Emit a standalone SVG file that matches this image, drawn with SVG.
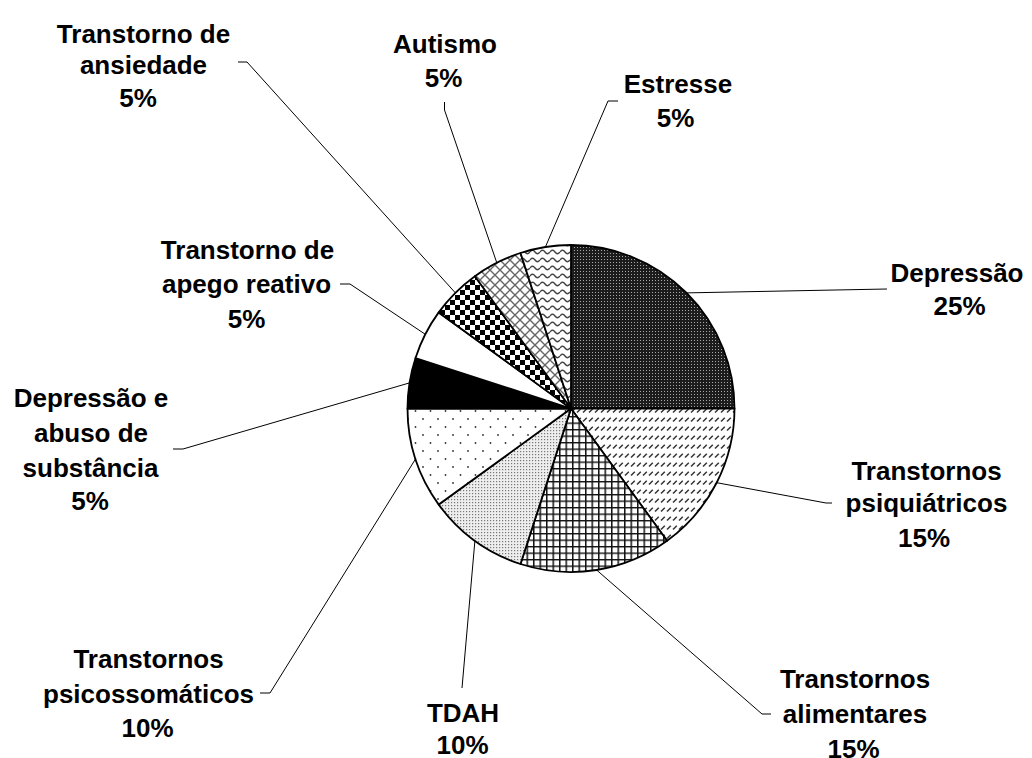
<svg xmlns="http://www.w3.org/2000/svg" width="1032" height="758" viewBox="0 0 1032 758">
<style>
.lbl{font-family:"Liberation Sans",Arial,sans-serif;font-weight:bold;font-size:26px;fill:#000;text-anchor:middle}
.lead{fill:none;stroke:#000;stroke-width:1}
.slice{stroke:#000;stroke-width:1.8;stroke-linejoin:round}
</style>
<defs>
<pattern id="pDep" width="3" height="3" patternUnits="userSpaceOnUse"><rect width="3" height="3" fill="#1c1c1c"/><rect x="1" y="1" width="1" height="1" fill="#a8a8a8"/></pattern>
<pattern id="pPsiq" width="6" height="9" patternUnits="userSpaceOnUse"><rect width="6" height="9" fill="#fff"/><line x1="1" y1="7.5" x2="4.8" y2="3.7" stroke="#333" stroke-width="1.5"/></pattern>
<pattern id="pAlim" width="6.5" height="6.5" patternUnits="userSpaceOnUse"><rect width="6.5" height="6.5" fill="#fff"/><path d="M0 0.75H6.5M0.75 0V6.5" stroke="#111" stroke-width="1.5"/></pattern>
<pattern id="pTdah" width="3" height="3" patternUnits="userSpaceOnUse"><rect width="3" height="3" fill="#eee"/><rect x="1" y="1" width="1.2" height="1.2" fill="#777"/></pattern>
<pattern id="pPsic" width="15" height="16" patternUnits="userSpaceOnUse"><rect width="15" height="16" fill="#fff"/><circle cx="3" cy="3" r="0.9" fill="#333"/><circle cx="10.5" cy="11" r="0.9" fill="#333"/></pattern>
<pattern id="pAns" width="10" height="10" patternUnits="userSpaceOnUse"><rect width="10" height="10" fill="#fff"/><rect width="5" height="5" fill="#000"/><rect x="5" y="5" width="5" height="5" fill="#000"/></pattern>
<pattern id="pAut" width="10" height="10" patternUnits="userSpaceOnUse"><rect width="10" height="10" fill="#fff"/><path d="M-1 -1L11 11M11 -1L-1 11" stroke="#666" stroke-width="1.4"/></pattern>
<pattern id="pEst" width="10" height="8" patternUnits="userSpaceOnUse"><rect width="10" height="8" fill="#fff"/><path d="M0 4 Q2.5 0.5 5 4 T10 4" fill="none" stroke="#444" stroke-width="1.4"/></pattern>
</defs>
<rect width="1032" height="758" fill="#fff"/>

<g id="connectors">
<polyline class="lead" points="686.6,292.9 887,289"/>
<polyline class="lead" points="716.7,482.7 826,503 832,503"/>
<polyline class="lead" points="596.6,570 762,714 771,714"/>
<polyline class="lead" points="474.9,540.8 462,688"/>
<polyline class="lead" points="415.5,459 270,693 260,693"/>
<polyline class="lead" points="409.5,382.9 183,449 173,449"/>
<polyline class="lead" points="425.3,334.3 350,284 340,284"/>
<polyline class="lead" points="455.4,292.9 247,62 238,62"/>
<polyline class="lead" points="496.8,262.8 444.5,110 444.5,102"/>
<polyline class="lead" points="545.4,247 608,101 618,101"/>
</g>

<g id="depressao">
<path class="slice" fill="url(#pDep)" d="M571,408.5 L571,245 A163.5,163.5 0 0,1 734.5,408.5 Z"/>
<text class="lbl" x="957" y="281.5">Depressão</text>
<text class="lbl" x="959.5" y="315">25%</text>
</g>
<g id="psiquiatricos">
<path class="slice" fill="url(#pPsiq)" d="M571,408.5 L734.5,408.5 A163.5,163.5 0 0,1 667.1,540.8 Z"/>
<text class="lbl" x="926.5" y="480">Transtornos</text>
<text class="lbl" x="926.5" y="511.5">psiquiátricos</text>
<text class="lbl" x="924" y="546.5">15%</text>
</g>
<g id="alimentares">
<path class="slice" fill="url(#pAlim)" d="M571,408.5 L667.1,540.8 A163.5,163.5 0 0,1 520.5,564 Z"/>
<text class="lbl" x="855" y="688">Transtornos</text>
<text class="lbl" x="855" y="723">alimentares</text>
<text class="lbl" x="853.5" y="757.5">15%</text>
</g>
<g id="tdah">
<path class="slice" fill="url(#pTdah)" d="M571,408.5 L520.5,564 A163.5,163.5 0 0,1 438.7,504.6 Z"/>
<text class="lbl" x="463" y="721.5">TDAH</text>
<text class="lbl" x="462.5" y="754">10%</text>
</g>
<g id="psicossomaticos">
<path class="slice" fill="url(#pPsic)" d="M571,408.5 L438.7,504.6 A163.5,163.5 0 0,1 407.5,408.5 Z"/>
<text class="lbl" x="148.5" y="668">Transtornos</text>
<text class="lbl" x="148.5" y="703">psicossomáticos</text>
<text class="lbl" x="147.5" y="736.5">10%</text>
</g>
<g id="abuso">
<path class="slice" fill="#000" d="M571,408.5 L407.5,408.5 A163.5,163.5 0 0,1 415.5,358 Z"/>
<text class="lbl" x="91" y="406.5">Depressão e</text>
<text class="lbl" x="91" y="441.5">abuso de</text>
<text class="lbl" x="90.5" y="476.5">substância</text>
<text class="lbl" x="90" y="510">5%</text>
</g>
<g id="apego">
<path class="slice" fill="#fff" d="M571,408.5 L415.5,358 A163.5,163.5 0 0,1 438.7,312.4 Z"/>
<text class="lbl" x="247.5" y="259">Transtorno de</text>
<text class="lbl" x="246.5" y="293">apego reativo</text>
<text class="lbl" x="246.5" y="328">5%</text>
</g>
<g id="ansiedade">
<path class="slice" fill="url(#pAns)" d="M571,408.5 L438.7,312.4 A163.5,163.5 0 0,1 474.9,276.2 Z"/>
<text class="lbl" x="143.5" y="42.5">Transtorno de</text>
<text class="lbl" x="143.5" y="74">ansiedade</text>
<text class="lbl" x="138" y="106.5">5%</text>
</g>
<g id="autismo">
<path class="slice" fill="url(#pAut)" d="M571,408.5 L474.9,276.2 A163.5,163.5 0 0,1 520.5,253 Z"/>
<text class="lbl" x="445" y="53">Autismo</text>
<text class="lbl" x="443.5" y="86.5">5%</text>
</g>
<g id="estresse">
<path class="slice" fill="url(#pEst)" d="M571,408.5 L520.5,253 A163.5,163.5 0 0,1 571,245 Z"/>
<text class="lbl" x="678" y="92.5">Estresse</text>
<text class="lbl" x="675.5" y="127">5%</text>
</g>
</svg>
